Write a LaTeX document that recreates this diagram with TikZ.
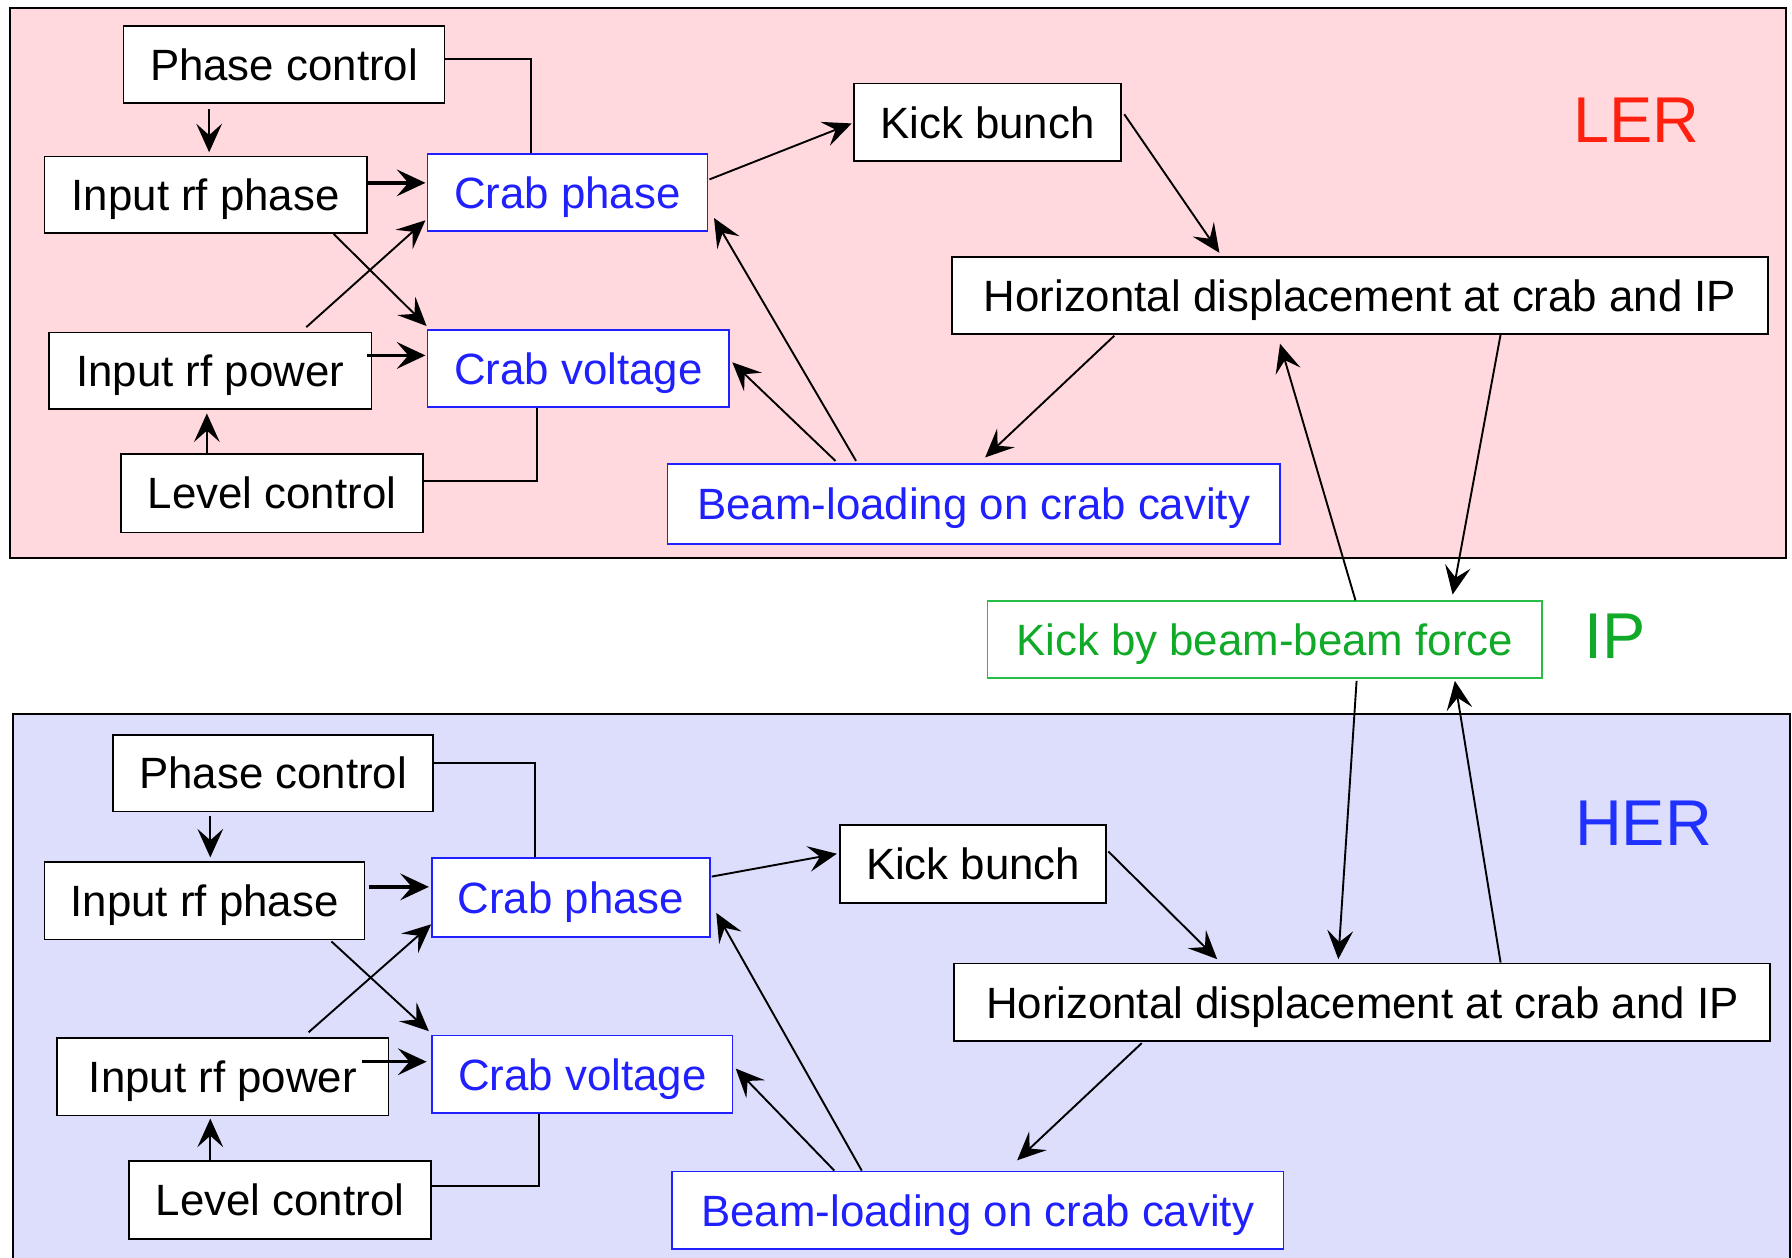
\documentclass[tikz,border=0pt]{standalone}
\usepackage{fontspec}
\setmainfont{Liberation Sans}
\usetikzlibrary{arrows.meta,calc}
\definecolor{lerfill}{RGB}{255,217,222}
\definecolor{herfill}{RGB}{221,221,252}
\definecolor{cblue}{RGB}{32,32,255}
\definecolor{lerred}{RGB}{255,32,16}
\definecolor{herblue}{RGB}{32,48,255}
\definecolor{gtext}{RGB}{16,170,40}
\definecolor{gborder}{RGB}{40,190,70}
\begin{document}
\begin{tikzpicture}[x=0.6pt,y=-0.6pt,
  box/.style={draw=black, fill=white, line width=0.9pt, inner sep=0pt,
    font=\fontsize{23}{27}\selectfont, text=black, text height=16.5pt, text depth=0pt},
  bbox/.style={box, draw=cblue, text=cblue},
  gbox/.style={box, draw=gborder, text=gtext},
  wd/.style={minimum width=#1*0.6pt},
  ht/.style={minimum height=#1*0.6pt},
  big/.style={font=\fontsize{34}{40}\selectfont, inner sep=0pt},
  ln/.style={line width=1pt},
  arr/.style={ln, -{Stealth[length=15pt,width=13.5pt,inset=6pt]}},
  tarr/.style={line width=1.8pt, -{Stealth[length=15pt,width=14pt,inset=6pt]}}]
\useasboundingbox (0,0) rectangle (1568,1100);

% frames
\fill[lerfill] (9,7) rectangle (1563,488);
\draw[ln] (9,7) rectangle (1563,488);
\fill[herfill] (11,625) rectangle (1566,1102);
\draw[ln] (11,1102) -- (11,625) -- (1566,625) -- (1566,1102);

% ---------- LER ----------
\node[box, wd=281, ht=67] (pc1) at (248.5,56.5) {Phase control};
\node[box, wd=282, ht=67] (irp1) at (180,170.5) {Input rf phase};
\node[bbox, wd=245, ht=67] (cp1) at (496.5,168.5) {Crab phase};
\node[box, wd=282, ht=67] (irw1) at (184,324.5) {Input rf power};
\node[bbox, wd=264, ht=67] (cv1) at (506,322.5) {Crab voltage};
\node[box, wd=264, ht=69] (lc1) at (238,431.5) {Level control};
\node[box, wd=234, ht=68] (kb1) at (864,107) {Kick bunch};
\node[box, wd=714, ht=67] (hd1) at (1190,258.5) {Horizontal displacement at crab and IP};
\node[bbox, wd=536, ht=70] (bl1) at (852,441) {Beam-loading on crab cavity};
\node[big, text=lerred] (ler) at (1432,105) {LER};

% ---------- IP ----------
\node[gbox, wd=485, ht=67] (kbb) at (1106.5,559.5) {Kick by beam-beam force};
\node[big, text=gtext] (ip) at (1413,557) {IP};

% ---------- HER ----------
\node[box, wd=280, ht=67] (pc2) at (239,676.5) {Phase control};
\node[box, wd=280, ht=68] (irp2) at (179,788) {Input rf phase};
\node[bbox, wd=243, ht=69] (cp2) at (499.5,785.5) {Crab phase};
\node[box, wd=290, ht=68] (irw2) at (195,942) {Input rf power};
\node[bbox, wd=263, ht=68] (cv2) at (509.5,940) {Crab voltage};
\node[box, wd=264, ht=68] (lc2) at (245,1050) {Level control};
\node[box, wd=233, ht=68] (kb2) at (851.5,756) {Kick bunch};
\node[box, wd=714, ht=68] (hd2) at (1192,877) {Horizontal displacement at crab and IP};
\node[bbox, wd=535, ht=68] (bl2) at (855.5,1059) {Beam-loading on crab cavity};
\node[big, text=herblue] (her) at (1438,720) {HER};

% ---------- LER connectors ----------
\draw[arr] ($(pc1.south)+(-65.5,5)$) -- ($(irp1.north)+(3,-3)$);
\draw[ln] ($(pc1.east)+(0,-4.5)$) -| ($(cp1.north)+(-31.5,0)$);
\draw[tarr] ($(irp1.east)+(-1,-10.5)$) -- ($(cp1.west)+(-1,-8.5)$);
\draw[arr] ($(irp1.south)+(112,0)$) -- ($(cv1.north west)+(0,-3)$);
\draw[arr] ($(irw1.north)+(84,-4)$) -- ($(cp1.south west)+(-1,-10)$);
\draw[tarr] ($(irw1.east)+(-5,-13.5)$) -- ($(cv1.west)+(-1,-11.5)$);
\draw[arr] ($(lc1.north)+(-57,0)$) -- ($(irw1.south)+(-3,3)$);
\draw[ln] ($(lc1.east)+(0,-10.5)$) -| ($(cv1.south)+(-36,0)$);
\draw[arr] ($(cp1.east)+(1,-11.5)$) -- ($(kb1.west)+(-1,1)$);
\draw[arr] ($(kb1.east)+(2,-7)$) -- ($(hd1.north)+(-123,-3)$);
\draw[arr] ($(hd1.south)+(-215,1)$) -- ($(bl1.north)+(10,-5)$);
\draw[arr] ($(bl1.north)+(-103,-2)$) -- ($(cp1.south east)+(5,-12)$);
\draw[arr] ($(bl1.north)+(-121,-2)$) -- ($(cv1.east)+(2,-5.5)$);
\draw[arr] ($(hd1.south)+(123,0)$) -- ($(kbb.north)+(164.5,-5)$);
\draw[arr] ($(kbb.north)+(79.5,0)$) -- ($(hd1.south)+(-70,8)$);

% ---------- HER connectors ----------
\draw[arr] ($(pc2.south)+(-55,3)$) -- ($(irp2.north)+(5,-3)$);
\draw[ln] ($(pc2.east)+(0,-8.5)$) -| ($(cp2.north)+(-31.5,0)$);
\draw[tarr] ($(irp2.east)+(3,-12)$) -- ($(cp2.west)+(-2,-9.5)$);
\draw[arr] ($(irp2.south)+(111,1)$) -- ($(cv2.north west)+(-2,-3)$);
\draw[arr] ($(irw2.north)+(75,-4)$) -- ($(cp2.south west)+(0,-12)$);
\draw[tarr] ($(irw2.east)+(-24,-13)$) -- ($(cv2.west)+(-4,-11)$);
\draw[arr] ($(lc2.north)+(-61,0)$) -- ($(irw2.south)+(-11,2)$);
\draw[ln] ($(lc2.east)+(0,-12)$) -| ($(cv2.south)+(-37.5,0)$);
\draw[arr] ($(cp2.east)+(1,-18.5)$) -- ($(kb2.west)+(-2,-9)$);
\draw[arr] ($(kb2.east)+(1,-11)$) -- ($(hd2.north)+(-127,-3)$);
\draw[arr] ($(hd2.south)+(-193,1)$) -- ($(bl2.north)+(34.5,-9)$);
\draw[arr] ($(bl2.north)+(-101.5,0)$) -- ($(cp2.south east)+(5,-22)$);
\draw[arr] ($(bl2.north)+(-125.5,0)$) -- ($(cv2.east)+(2,-5)$);
\draw[arr] ($(kbb.south)+(80.5,2)$) -- ($(hd2.north)+(-21,-3)$);
\draw[arr] ($(hd2.north)+(121,0)$) -- ($(kbb.south)+(166.5,2)$);
\end{tikzpicture}
\end{document}
